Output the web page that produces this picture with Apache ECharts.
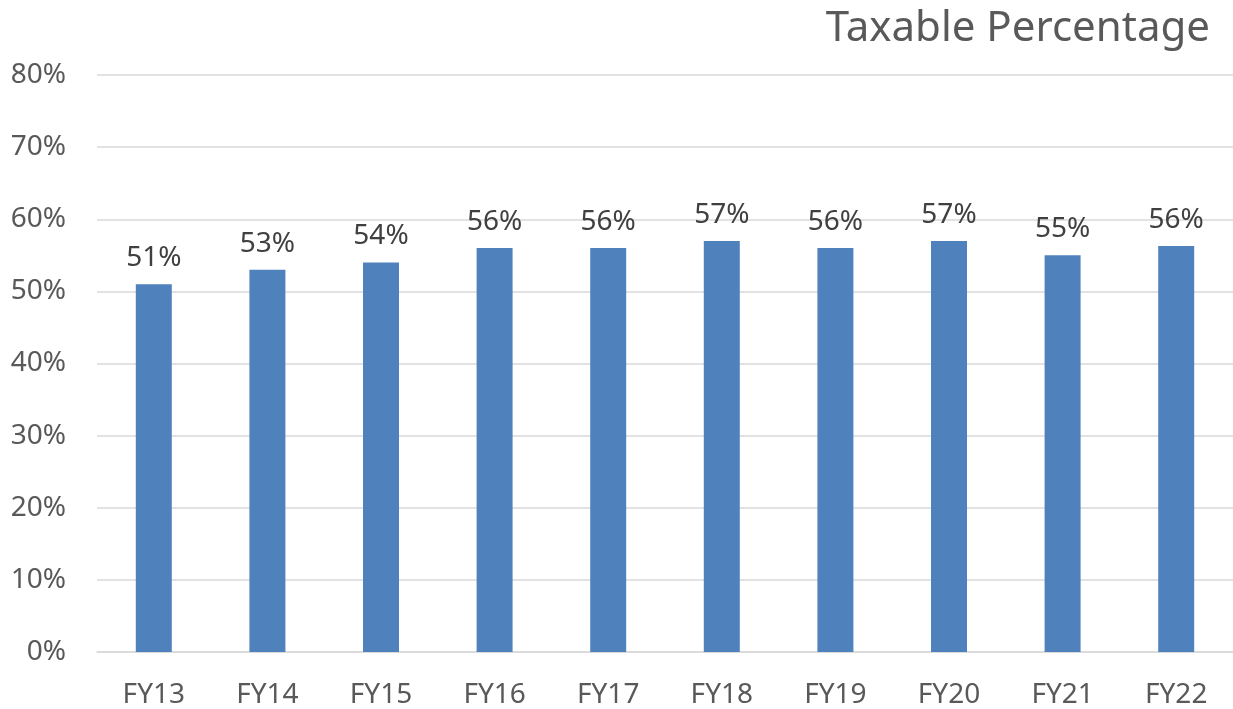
<!DOCTYPE html>
<html><head><meta charset="utf-8">
<script src="https://cdn.jsdelivr.net/npm/echarts@6/dist/echarts.min.js"></script>
<style>html,body{margin:0;padding:0;background:#fff}#c{width:1233px;height:709px}</style>
</head><body><div id="c"></div>
<script>
const categories = ['FY13','FY14','FY15','FY16','FY17','FY18','FY19','FY20','FY21','FY22'];
const taxablePct = [51, 53, 54, 56, 56, 57, 56, 57, 55, 56.3];
const yTicks = [0, 10, 20, 30, 40, 50, 60, 70, 80];
const FONT = '"Noto Sans", "Open Sans", sans-serif';
const chart = echarts.init(document.getElementById('c'));
chart.setOption({
  animation: false,
  title: {
    text: 'Taxable Percentage', right: 18, top: 3,
    textStyle: {fontFamily: FONT, fontSize: 42, fontWeight: 'normal', color: '#595959'}
  },
  grid: {left: 97, right: -5, top: 75, bottom: 57, containLabel: false},
  xAxis: {
    type: 'category', data: categories,
    axisLine: {show: true, lineStyle: {color: '#d9d9d9', width: 1.5}},
    axisTick: {show: false},
    axisLabel: {fontFamily: FONT, fontSize: 28, color: '#595959', margin: 29}
  },
  yAxis: {
    type: 'value', min: yTicks[0], max: yTicks[yTicks.length-1], interval: 10,
    axisLine: {show: false}, axisTick: {show: false},
    splitLine: {lineStyle: {color: '#d9d9d9', width: 1.5}},
    axisLabel: {fontFamily: FONT, fontSize: 28, color: '#595959', margin: 31, formatter: v => v + '%'}
  },
  series: [{
    type: 'bar', data: taxablePct, barWidth: 36,
    itemStyle: {color: '#4f81bd'},
    label: {show: true, position: 'top', distance: 12, fontFamily: FONT, fontSize: 28, color: '#404040',
      formatter: p => Math.round(p.value) + '%'}
  }]
});
</script></body></html>
